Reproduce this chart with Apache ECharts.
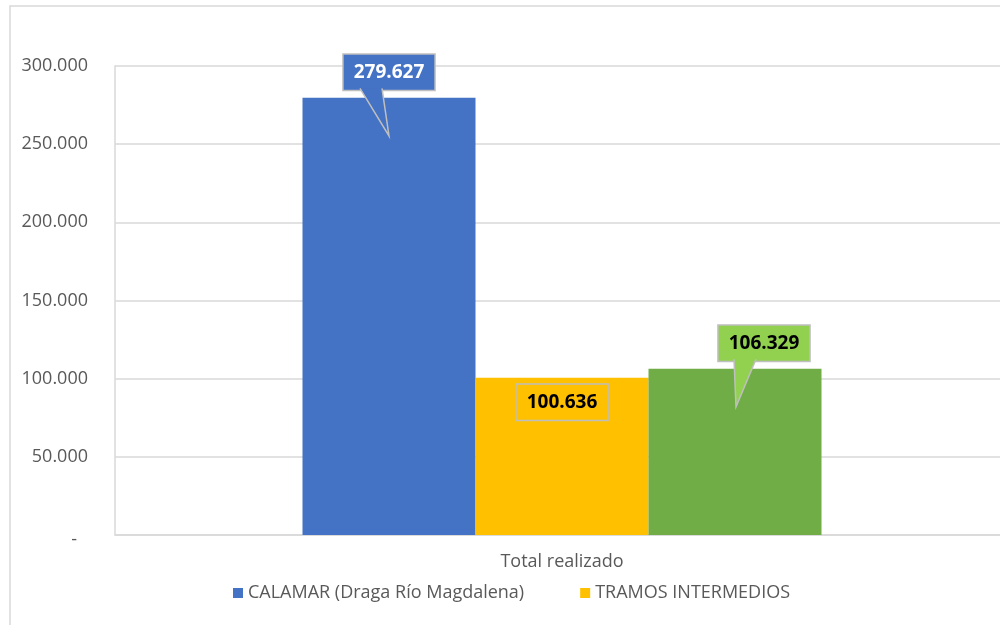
<!DOCTYPE html>
<html>
<head>
<meta charset="utf-8">
<script src="https://cdn.jsdelivr.net/npm/echarts@6/dist/echarts.min.js"></script>
<style>
  html, body { margin: 0; padding: 0; background: #fff; }
  #main { width: 1000px; height: 625px; }
</style>
</head>
<body>
<div id="main"></div>
<script>
// datos
var categorias = ['Total realizado'];
var nombres = ['CALAMAR (Draga Río Magdalena)', 'TRAMOS INTERMEDIOS', 'OTROS'];
var valores = [279627, 100636, 106329];
var colores = ['#4472c4', '#ffc000', '#70ad47'];
var coloresEtiqueta = ['#4472c4', '#ffc000', '#92d050'];
var colorTextoEtiqueta = ['#ffffff', '#000000', '#000000'];
var legendaVisible = ['CALAMAR (Draga Río Magdalena)', 'TRAMOS INTERMEDIOS'];

var fuente = 'Open Sans';

function puntos(v) {
    if (v === 0) return '-';
    return String(Math.round(v)).replace(/\B(?=(\d{3})+(?!\d))/g, '.');
}

var myChart = echarts.init(document.getElementById('main'));

// posición de cada etiqueta respecto a su barra
var posEtiqueta = [
    { position: 'top', distance: 8, offset: [0, 0] },
    { position: 'insideTop', distance: 7, offset: [0, 0] },
    { position: 'top', distance: 8, offset: [29, 0] }
];

var series = valores.map(function (v, i) {
    return {
        name: nombres[i],
        type: 'bar',
        data: [v],
        barWidth: 173,
        barGap: '0%',
        itemStyle: { color: colores[i] },
        label: {
            show: true,
            position: posEtiqueta[i].position,
            distance: posEtiqueta[i].distance,
            offset: posEtiqueta[i].offset,
            formatter: function (p) { return puntos(p.value); },
            fontFamily: fuente,
            fontWeight: 'bold',
            fontSize: 19,
            lineHeight: 22,
            color: colorTextoEtiqueta[i],
            backgroundColor: coloresEtiqueta[i],
            borderColor: '#bfbfbf',
            borderWidth: 1.5,
            padding: [7, 10, 6, 10]
        }
    };
});

var option = {
    animation: false,
    textStyle: { fontFamily: fuente },
    grid: { left: 115, right: -9, top: 66, bottom: 90, outerBoundsMode: 'none', containLabel: false },
    legend: {
        data: legendaVisible,
        left: 228,
        top: 579,
        itemWidth: 10,
        itemHeight: 10,
        itemGap: 56,
        icon: 'rect',
        textStyle: { fontFamily: fuente, fontSize: 18, color: '#595959' }
    },
    xAxis: {
        type: 'category',
        data: categorias,
        axisLine: { lineStyle: { color: '#d9d9d9', width: 1.5 } },
        axisTick: { show: false },
        axisLabel: { fontFamily: fuente, fontSize: 18, color: '#595959', margin: 18 }
    },
    yAxis: {
        type: 'value',
        min: 0,
        max: 300000,
        interval: 50000,
        axisLine: { show: true, lineStyle: { color: '#d9d9d9', width: 1.5 } },
        axisTick: { show: false },
        splitLine: { lineStyle: { color: '#d9d9d9', width: 1.5 } },
        axisLabel: {
            fontFamily: fuente, fontSize: 18, color: '#595959', margin: 27,
            formatter: function (v) { return v === 0 ? '{z|-}' : puntos(v); },
            rich: { z: { fontFamily: fuente, fontSize: 18, color: '#595959', padding: [10, 11, 0, 0] } }
        }
    },
    graphic: [{
        type: 'rect',
        silent: true,
        shape: { x: 10, y: 6, width: 1000, height: 640 },
        style: { fill: 'none', stroke: '#d9d9d9', lineWidth: 1.5 }
    }],
    series: series
};

myChart.setOption(option);

// punteros de las etiquetas tipo "bocadillo"
function punteros() {
    var modelo = myChart.getModel();
    var extra = [];
    // [serie, base izq (dx), base der (dx), punta (dx), punta (dy bajo tope)]
    var defs = [
        [0, -29, -7, 0, 38],
        [2, -1, 21, 1, 38]
    ];
    defs.forEach(function (d) {
        var lay = modelo.getSeriesByIndex(d[0]).getData().getItemLayout(0);
        var cx = lay.x + lay.width / 2;
        var top = lay.y + Math.min(0, lay.height);
        var by = top - posEtiqueta[d[0]].distance - 1.5;
        var pts = [[cx + d[1], by], [cx + d[3], top + d[4]], [cx + d[2], by]];
        extra.push({
            type: 'polygon', silent: true, z: 100,
            shape: { points: pts },
            style: { fill: coloresEtiqueta[d[0]] }
        });
        extra.push({
            type: 'polyline', silent: true, z: 101,
            shape: { points: pts },
            style: { fill: 'none', stroke: '#bfbfbf', lineWidth: 1.5 }
        });
    });
    myChart.setOption({ graphic: option.graphic.concat(extra) });
}
punteros();
</script>
</body>
</html>
